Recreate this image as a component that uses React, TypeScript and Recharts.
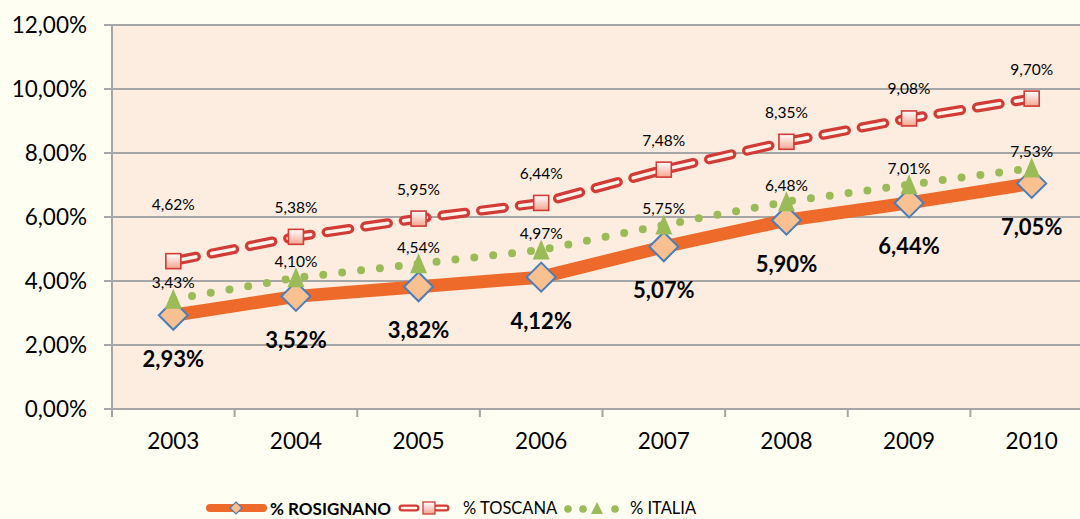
import React from 'react';
import { LineChart, Line, XAxis, YAxis, CartesianGrid, LabelList, Legend } from 'recharts';

const years = ['2003', '2004', '2005', '2006', '2007', '2008', '2009', '2010'];
const rosignano = [2.93, 3.52, 3.82, 4.12, 5.07, 5.9, 6.44, 7.05];
const toscana = [4.62, 5.38, 5.95, 6.44, 7.48, 8.35, 9.08, 9.7];
const italia = [3.43, 4.1, 4.54, 4.97, 5.75, 6.48, 7.01, 7.53];
const yTicks = [0, 2, 4, 6, 8, 10, 12];
const seriesNames = ['% ROSIGNANO', '% TOSCANA', '% ITALIA'];

const data = years.map((y, i) => ({
  year: y,
  rosignano: rosignano[i],
  toscana: toscana[i],
  italia: italia[i],
}));

const FONT = 'Lato, "Open Sans", sans-serif';
const ORANGE = '#EE6A2A';
const RED = '#D23B36';
const INNER = '#FFF3EA';
const GREEN = '#9BBB59';
const GRID = '#A6A6A6';
const PLOT_BG = '#FDEDE0';
const PAGE_BG = '#FFFEF3';

const fmt = (v: number) => v.toFixed(2).replace('.', ',') + '%';

const Diamond = (p: any) => {
  const { cx, cy, index } = p;
  if (cx == null || cy == null) return <g key={`dm-${index}`} />;
  const r = 14.5;
  return (
    <polygon
      key={`dm-${index}`}
      points={`${cx},${cy - r} ${cx + r},${cy} ${cx},${cy + r} ${cx - r},${cy}`}
      fill="#FAC090"
      stroke="#4A7EBB"
      strokeWidth={2}
    />
  );
};

const Square = (p: any) => {
  const { cx, cy, index } = p;
  if (cx == null || cy == null) return <g key={`sq-${index}`} />;
  const s = 15;
  return (
    <rect
      key={`sq-${index}`}
      x={cx - s / 2}
      y={cy - s / 2}
      width={s}
      height={s}
      fill="url(#sqGrad)"
      stroke={RED}
      strokeWidth={1.6}
    />
  );
};

const Triangle = (p: any) => {
  const { cx, cy, index } = p;
  if (cx == null || cy == null) return <g key={`tr-${index}`} />;
  return (
    <polygon
      key={`tr-${index}`}
      points={`${cx},${cy - 10.5} ${cx + 8.5},${cy + 9.5} ${cx - 8.5},${cy + 9.5}`}
      fill={GREEN}
    />
  );
};

const rosLabel = (p: any) => {
  const { x, y, value, index } = p;
  return (
    <text key={`rl-${index}`} x={x} y={y + 43} textAnchor="middle" dominantBaseline="central"
      fontFamily={FONT} fontSize={22} fontWeight={700} fill="#000">
      {fmt(Number(value))}
    </text>
  );
};

const tosLabel = (p: any) => {
  const { x, y, value, index } = p;
  const dy = index === 0 ? -57 : -30;
  return (
    <text key={`tl-${index}`} x={x} y={y + dy} textAnchor="middle" dominantBaseline="central"
      fontFamily={FONT} fontSize={15.5} fill="#000">
      {fmt(Number(value))}
    </text>
  );
};

const itaLabel = (p: any) => {
  const { x, y, value, index } = p;
  return (
    <text key={`il-${index}`} x={x} y={y - 17} textAnchor="middle" dominantBaseline="central"
      fontFamily={FONT} fontSize={15.5} fill="#000">
      {fmt(Number(value))}
    </text>
  );
};

const XTick = (p: any) => {
  const { x, y, payload } = p;
  const off = payload && typeof payload.offset === 'number' ? payload.offset : 61.3;
  const axisY = y - 8 - 16;
  return (
    <g>
      <line x1={x - off} x2={x - off} y1={axisY} y2={axisY + 8} stroke={GRID} strokeWidth={2} />
      <text x={x} y={y} dy="0.71em" textAnchor="middle" fontFamily={FONT} fontSize={22.5} fill="#000">
        {payload.value}
      </text>
    </g>
  );
};

const renderLegend = () => (
  <svg width={1080} height={22} style={{ display: 'block', overflow: 'visible' }}>
    {/* ROSIGNANO */}
    <line x1={210} x2={263} y1={12} y2={12} stroke={ORANGE} strokeWidth={8} strokeLinecap="round" />
    <polygon points="236,6 242,12 236,18 230,12" fill="#FAC090" stroke="#4A7EBB" strokeWidth={1.2} />
    <text x={270} y={12} dominantBaseline="central" fontFamily={FONT} fontSize={17} fontWeight={700} fill="#000">
      {seriesNames[0]}
    </text>
    {/* TOSCANA */}
    <line x1={402} x2={416} y1={12} y2={12} stroke={RED} strokeWidth={7} strokeLinecap="round" />
    <line x1={402} x2={416} y1={12} y2={12} stroke={INNER} strokeWidth={2.5} strokeLinecap="round" />
    <line x1={436} x2={446} y1={12} y2={12} stroke={RED} strokeWidth={7} strokeLinecap="round" />
    <line x1={436} x2={446} y1={12} y2={12} stroke={INNER} strokeWidth={2.5} strokeLinecap="round" />
    <rect x={423} y={6} width={12} height={12} fill="url(#sqGradL)" stroke={RED} strokeWidth={1.3} />
    <defs>
      <linearGradient id="sqGradL" x1="0" y1="0" x2="0" y2="1">
        <stop offset="0%" stopColor="#FFFFFF" />
        <stop offset="100%" stopColor="#F5A58F" />
      </linearGradient>
    </defs>
    <text x={463} y={12} dominantBaseline="central" fontFamily={FONT} fontSize={16.5} fill="#000">
      {seriesNames[1]}
    </text>
    {/* ITALIA */}
    <circle cx={568} cy={13} r={3.8} fill={GREEN} />
    <circle cx={583} cy={13} r={3.8} fill={GREEN} />
    <polygon points="597,6 603,18 591,18" fill={GREEN} />
    <circle cx={615} cy={13} r={3.8} fill={GREEN} />
    <text x={630} y={12} dominantBaseline="central" fontFamily={FONT} fontSize={16.5} fill="#000">
      {seriesNames[2]}
    </text>
  </svg>
);

export default function App() {
  return (
    <div
      style={{
        position: 'absolute',
        left: 0,
        top: 0,
        width: 1080,
        height: 519,
        overflow: 'hidden',
        background: PAGE_BG,
        fontFamily: FONT,
      }}
    >
      <LineChart
        width={1100}
        height={519}
        data={data}
        margin={{ top: 25, right: 7, left: 0, bottom: 60 }}
        style={{ fontFamily: FONT }}
      >
        <defs>
          <linearGradient id="sqGrad" x1="0" y1="0" x2="0" y2="1">
            <stop offset="0%" stopColor="#FFFFFF" />
            <stop offset="100%" stopColor="#F5A58F" />
          </linearGradient>
        </defs>
        <CartesianGrid vertical={false} stroke={GRID} strokeWidth={2} fill={PLOT_BG} fillOpacity={1} />
        <XAxis
          dataKey="year"
          scale="band"
          height={50}
          axisLine={{ stroke: GRID, strokeWidth: 2 }}
          tickLine={false}
          tickSize={8}
          tickMargin={16}
          tick={<XTick />}
          interval={0}
        />
        <YAxis
          width={112}
          domain={[0, 12]}
          ticks={yTicks}
          interval={0}
          tickFormatter={(v: number) => fmt(v)}
          axisLine={{ stroke: GRID, strokeWidth: 2 }}
          tickLine={{ stroke: GRID, strokeWidth: 2 }}
          tickSize={8}
          tickMargin={17}
          tick={{ fill: '#000', fontSize: 22.5, fontFamily: FONT }}
        />
        <Line
          dataKey="rosignano"
          name={seriesNames[0]}
          stroke={ORANGE}
          strokeWidth={13}
          strokeLinejoin="round"
          dot={Diamond}
          activeDot={false}
          isAnimationActive={false}
        >
          <LabelList dataKey="rosignano" content={rosLabel} />
        </Line>
        <Line
          dataKey="toscana"
          name="toscana-outer"
          stroke={RED}
          strokeWidth={10}
          strokeDasharray="23 16"
          strokeLinecap="round"
          dot={false}
          activeDot={false}
          legendType="none"
          isAnimationActive={false}
        />
        <Line
          dataKey="toscana"
          name={seriesNames[1]}
          stroke={INNER}
          strokeWidth={3.5}
          strokeDasharray="23 16"
          strokeLinecap="round"
          dot={Square}
          activeDot={false}
          isAnimationActive={false}
        >
          <LabelList dataKey="toscana" content={tosLabel} />
        </Line>
        <Line
          dataKey="italia"
          name={seriesNames[2]}
          stroke={GREEN}
          strokeWidth={8}
          strokeDasharray="0 19"
          strokeLinecap="round"
          dot={Triangle}
          activeDot={false}
          isAnimationActive={false}
        >
          <LabelList dataKey="italia" content={itaLabel} />
        </Line>
        <Legend
          layout="horizontal"
          verticalAlign="middle"
          align="center"
          content={renderLegend}
          wrapperStyle={{ top: 496, left: 0, width: 1080, height: 22 }}
        />
      </LineChart>
    </div>
  );
}
